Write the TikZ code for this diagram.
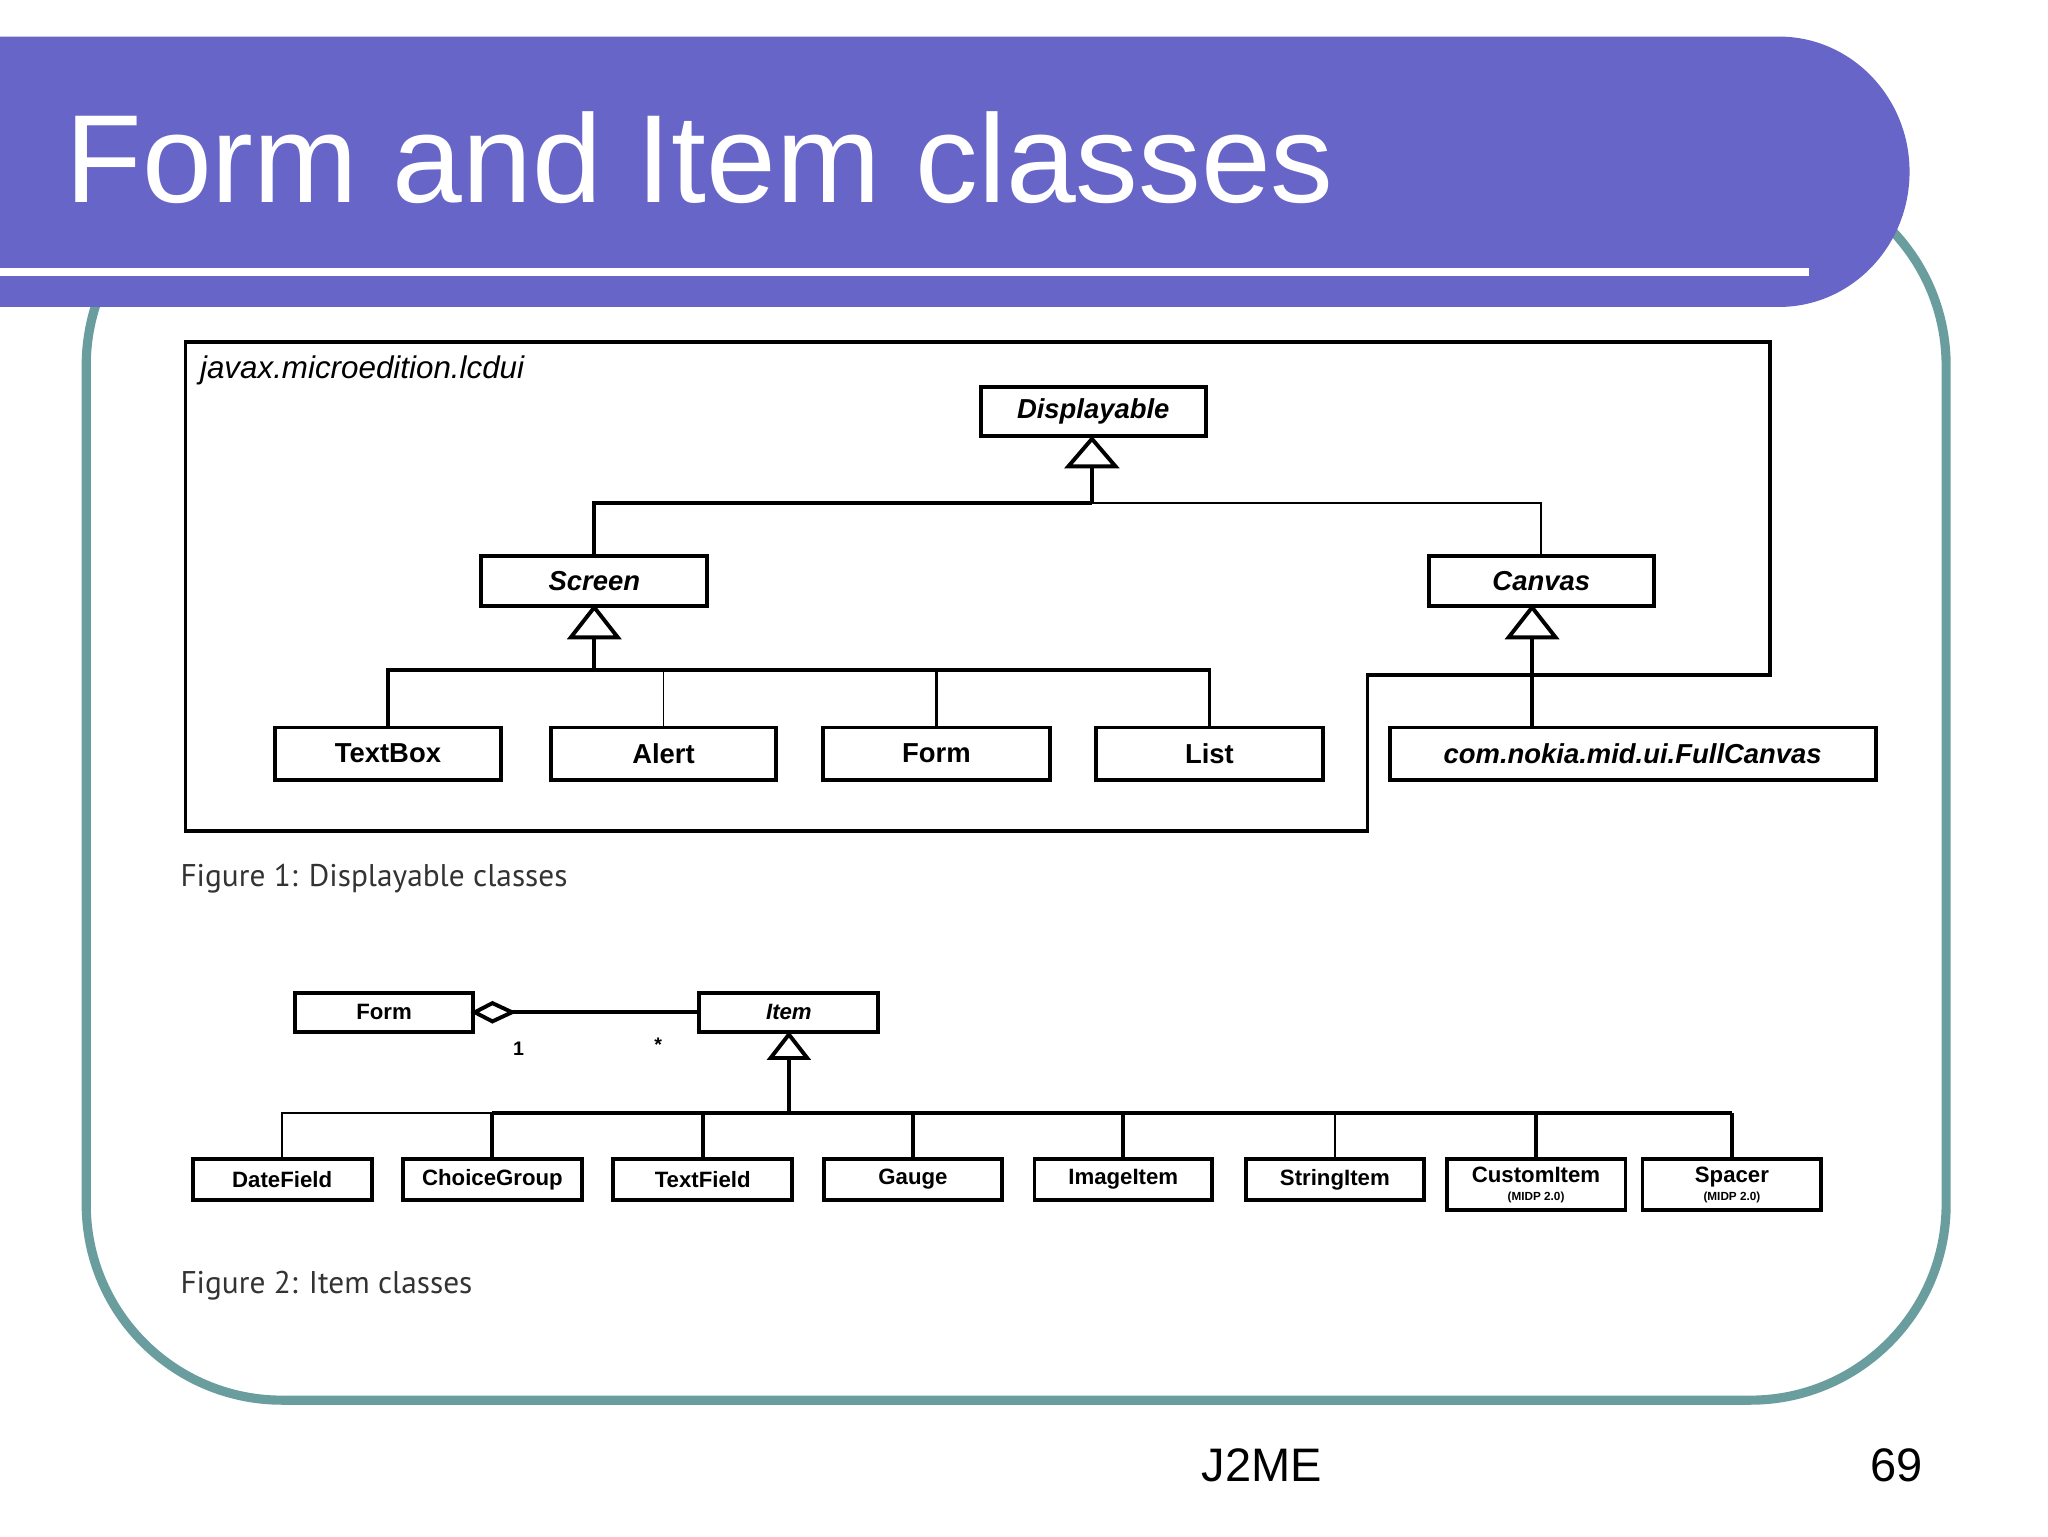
\documentclass[tikz,border=0pt]{standalone}
\usepackage{fontspec}
\setmainfont{Liberation Sans}
\newfontfamily\capfont{PT Sans}
\usetikzlibrary{calc}
\definecolor{band}{HTML}{6766C8}
\definecolor{frame}{HTML}{6A9E9E}
\begin{document}
\begin{tikzpicture}[x=1pt,y=-1pt,
  box/.style={draw=black,line width=3pt,inner sep=0pt,font=\fontsize{21}{21}\selectfont\bfseries},
  sbox/.style={draw=black,line width=3pt,inner sep=0pt,font=\fontsize{17}{17}\selectfont\bfseries},
  ln/.style={line width=3pt},
  thin/.style={line width=1.5pt},
  tri/.style={line width=3pt,fill=white}]
\useasboundingbox (0,0) rectangle (1568,1176);
\fill[white] (0,0) rectangle (1568,1176);
% frame
\draw[frame,line width=7pt,rounded corners=150pt] (66,130) rectangle (1490,1072);
% band
\fill[band] (0,28) -- (1362,28) arc[start angle=-90,end angle=90,x radius=100pt,y radius=-103.5pt] -- (0,235) -- cycle;
\draw[white,line width=6pt] (0,208) -- (1385,208);
\node[anchor=base west,text=white,inner sep=0pt,font=\fontsize{96}{96}\selectfont] (title) at (50,155) {Form and Item classes};
% package
\draw[ln] (142,262) -- (1355,262) -- (1355,517) -- (1047,517) -- (1047,636) -- (142,636) -- cycle;
\node[anchor=north west,inner sep=0pt,font=\fontsize{24}{24}\selectfont\itshape] (pkg) at (153,272) {javax.microedition.lcdui};
% fig 1 boxes
\node[box,minimum width=172pt,minimum height=38pt,font=\fontsize{21}{21}\selectfont\bfseries\itshape] (disp) at (837,315) {Displayable};
\node[box,minimum width=173pt,minimum height=38pt,font=\fontsize{21}{21}\selectfont\bfseries\itshape] (scr) at (455,445) {Screen};
\node[box,minimum width=172pt,minimum height=38pt,font=\fontsize{21}{21}\selectfont\bfseries\itshape] (can) at (1180,445) {Canvas};
\node[box,minimum width=173pt,minimum height=40pt] (tb) at (297,577) {TextBox};
\node[box,minimum width=172pt,minimum height=40pt] (al) at (508,577) {Alert};
\node[box,minimum width=174pt,minimum height=40pt] (fm) at (717,577) {Form};
\node[box,minimum width=174pt,minimum height=40pt] (li) at (926,577) {List};
\node[box,minimum width=372pt,minimum height=40pt,font=\fontsize{21}{21}\selectfont\bfseries\itshape] (fc) at (1250,577) {com.nokia.mid.ui.FullCanvas};
% fig1 connectors
\coordinate (dt) at (836,336);
\draw[ln] (836,357) -- (836,385);
\draw[tri] (dt) -- (818,357) -- (854,357) -- cycle;
\draw[ln] (455,426) |- (836,385);
\draw[thin] (836,385) -| (can.north);
\coordinate (st) at (455,465);
\draw[ln] (455,488) -- (455,513);
\draw[tri] (st) -- (437,488) -- (473,488) -- cycle;
\draw[ln] (tb.north) |- (455,513) -| (fm.north);
\draw[ln] (fm.north |- 0,513) -| (li.north);
\draw[thin] (al.north) -- (508,513);
\coordinate (ct) at (1173,465);
\draw[ln] (1173,488) -- (1173,557);
\draw[tri] (ct) -- (1155,488) -- (1191,488) -- cycle;
\node[anchor=base west,inner sep=0pt,font=\capfont\fontsize{24}{24}\selectfont,text=black!80] (c1) at (138,679) {Figure 1: Displayable classes};
% fig 2
\node[sbox,minimum width=136pt,minimum height=30pt] (f2) at (294,775) {Form};
\node[sbox,minimum width=137pt,minimum height=30pt,font=\fontsize{17}{17}\selectfont\bfseries\itshape] (it) at (604,775) {Item};
\draw[ln] (392,775) -- (it.west);
\draw[ln,fill=white] (f2.east) -- (377,768) -- (392,775) -- (377,782) -- cycle;
\node[font=\fontsize{15}{15}\selectfont\bfseries] (one) at (397,803) {1};
\node[font=\fontsize{15}{15}\selectfont\bfseries] (star) at (504,800) {*};
\draw[ln] (604,810) -- (604,852);
\draw[tri] (604,792) -- (590,810) -- (618,810) -- cycle;
\node[sbox,minimum width=137pt,minimum height=31pt] (b1) at (216,903) {DateField};
\node[sbox,minimum width=137pt,minimum height=31pt] (b2) at (377,903) {ChoiceGroup};
\node[sbox,minimum width=137pt,minimum height=31pt] (b3) at (538,903) {TextField};
\node[sbox,minimum width=136pt,minimum height=31pt] (b4) at (699,903) {Gauge};
\node[sbox,minimum width=136pt,minimum height=31pt] (b5) at (860,903) {ImageItem};
\node[sbox,minimum width=136pt,minimum height=31pt] (b6) at (1022,903) {StringItem};
\node[sbox,minimum width=137pt,minimum height=39pt,align=center] (b7) at (1176,907) {CustomItem\\[-3pt]{\fontsize{9}{9}\selectfont (MIDP 2.0)}};
\node[sbox,minimum width=137pt,minimum height=39pt,align=center] (b8) at (1326,907) {Spacer\\[-3pt]{\fontsize{9}{9}\selectfont (MIDP 2.0)}};
\draw[thin] (b1.north) |- (b8.north |- 0,852);
\foreach \n in {b2,b3,b4,b5,b7,b8} \draw[ln] (\n.north) -- (\n.north |- 0,852);
\draw[thin] (b6.north) -- (b6.north |- 0,852);
\draw[ln] (b2.north |- 0,852) -- (b8.north |- 0,852);
\node[anchor=base west,inner sep=0pt,font=\capfont\fontsize{24}{24}\selectfont,text=black!80] (c2) at (138,990) {Figure 2: Item classes};
\node[anchor=base,inner sep=0pt,font=\fontsize{36}{36}\selectfont] (j2) at (966,1134) {J2ME};
\node[anchor=base,inner sep=0pt,font=\fontsize{36}{36}\selectfont] (pg) at (1452,1134) {69};
\end{tikzpicture}
\end{document}
